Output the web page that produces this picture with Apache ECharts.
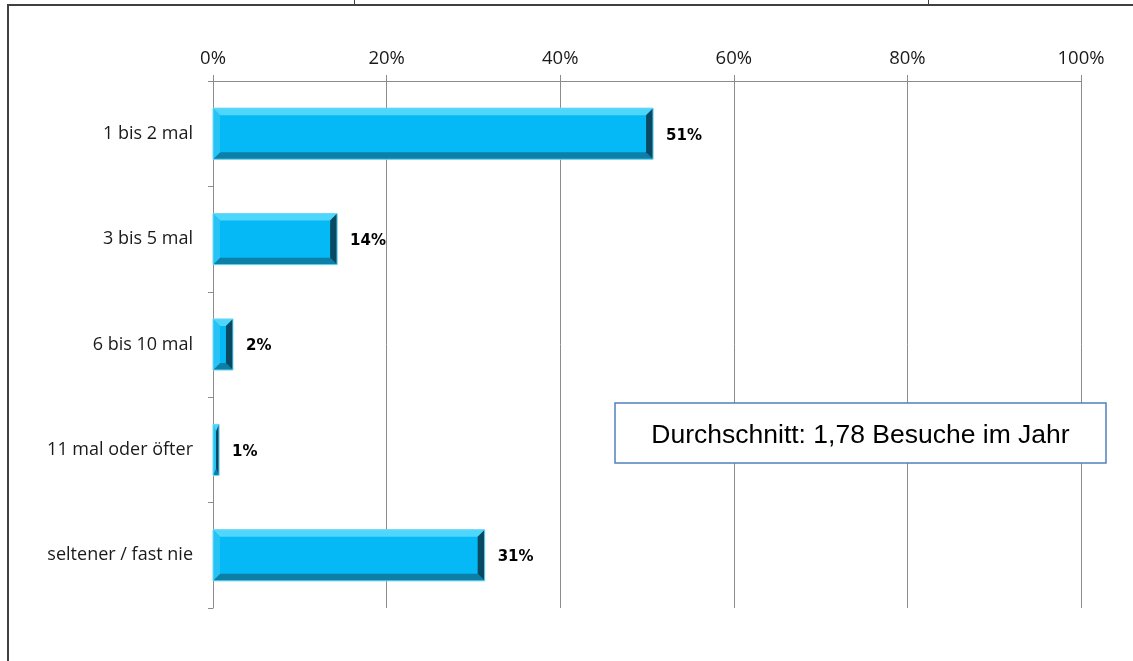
<!DOCTYPE html>
<html><head><meta charset="utf-8">
<script src="https://cdn.jsdelivr.net/npm/echarts@6/dist/echarts.min.js"></script>
<style>html,body{margin:0;padding:0;background:#fff}#c{width:1133px;height:661px}</style>
</head><body><div id="c"></div>
<script>
const categories = ['1 bis 2 mal', '3 bis 5 mal', '6 bis 10 mal', '11 mal oder öfter', 'seltener / fast nie'];
const values = [50.7, 14.3, 2.3, 0.7, 31.3];
const xTicks = [0, 20, 40, 60, 80, 100];
const noteText = 'Durchschnitt: 1,78 Besuche im Jahr';

const chart = echarts.init(document.getElementById('c'));
function renderBar(params, api) {
  const idx = api.value(0), v = api.value(1);
  const p0 = api.coord([0, idx]), p1 = api.coord([v, idx]);
  const h = api.size([0, 1])[1] * 0.485;
  const x0 = p0[0], x1 = p1[0], y0 = p0[1] - h / 2, y1 = p0[1] + h / 2;
  const w = x1 - x0;
  const b = Math.min(7, w / 2), bv = 7;
  const poly = (pts, fill) => ({ type: 'polygon', shape: { points: pts }, style: { fill: fill } });
  return { type: 'group', children: [
    { type: 'rect', shape: { x: x0, y: y0, width: w, height: h }, style: { fill: '#04b9f6' } },
    poly([[x0, y0], [x1, y0], [x1 - b, y0 + bv], [x0 + b, y0 + bv]], '#4fd6fb'),
    poly([[x0, y1], [x1, y1], [x1 - b, y1 - bv], [x0 + b, y1 - bv]], '#0b7fa6'),
    poly([[x0, y0], [x0 + b, y0 + bv], [x0 + b, y1 - bv], [x0, y1]], '#27c3f5'),
    poly([[x1, y0], [x1 - b, y0 + bv], [x1 - b, y1 - bv], [x1, y1]], '#074a62'),
    { type: 'rect', shape: { x: x0, y: y0, width: w, height: h }, style: { fill: 'none', stroke: '#6fd8f8', lineWidth: 1 } },
    { type: 'text', style: { text: Math.round(v) + '%', x: x1 + 13, y: p0[1] + 2, verticalAlign: 'middle',
      font: 'bold 15px "DejaVu Sans"', fill: '#000' } }
  ]};
}
chart.setOption({
  animation: false,
  grid: { left: 213, right: 52, top: 81, bottom: 53, containLabel: false },
  xAxis: {
    type: 'value', position: 'top', min: 0, max: 100, interval: 20,
    axisLine: { show: true, lineStyle: { color: '#8c8c8c', width: 1 } },
    axisTick: { show: true, length: 6, lineStyle: { color: '#8c8c8c' } },
    splitLine: { show: true, lineStyle: { color: '#8c8c8c', width: 1 } },
    axisLabel: { margin: 13, color: '#1a1a1a', fontSize: 18.5, fontFamily: 'Open Sans',
      formatter: v => xTicks.includes(v) ? v + '%' : '' }
  },
  yAxis: {
    type: 'category', data: categories, inverse: true,
    axisLine: { show: true, lineStyle: { color: '#8c8c8c' } },
    axisTick: { show: true, length: 5, lineStyle: { color: '#8c8c8c' } },
    axisLabel: { margin: 20, color: '#1a1a1a', fontSize: 18, fontFamily: 'Open Sans' },
    splitLine: { show: false }
  },
  series: [{
    type: 'custom', renderItem: renderBar,
    data: values.map((v, i) => [i, v]), encode: { x: 1, y: 0 }
  }],
  graphic: [
    { type: 'line', shape: { x1: 8, y1: 5, x2: 1133, y2: 5 }, style: { stroke: '#404040', lineWidth: 2 } },
    { type: 'line', shape: { x1: 8, y1: 4, x2: 8, y2: 661 }, style: { stroke: '#404040', lineWidth: 2 } },
    { type: 'line', shape: { x1: 354.5, y1: 0, x2: 354.5, y2: 5 }, style: { stroke: '#404040', lineWidth: 1 } },
    { type: 'line', shape: { x1: 928.5, y1: 0, x2: 928.5, y2: 5 }, style: { stroke: '#404040', lineWidth: 1 } },
    { type: 'rect', shape: { x: 615, y: 403, width: 491, height: 60 }, style: { fill: '#fff', stroke: '#4f81bd', lineWidth: 1.5 }, z: 10 },
    { type: 'text', x: 860.5, y: 436, style: { text: noteText, font: '26.5px "Liberation Sans"', fill: '#000', align: 'center', verticalAlign: 'middle' }, z: 11 }
  ]
});
</script></body></html>
